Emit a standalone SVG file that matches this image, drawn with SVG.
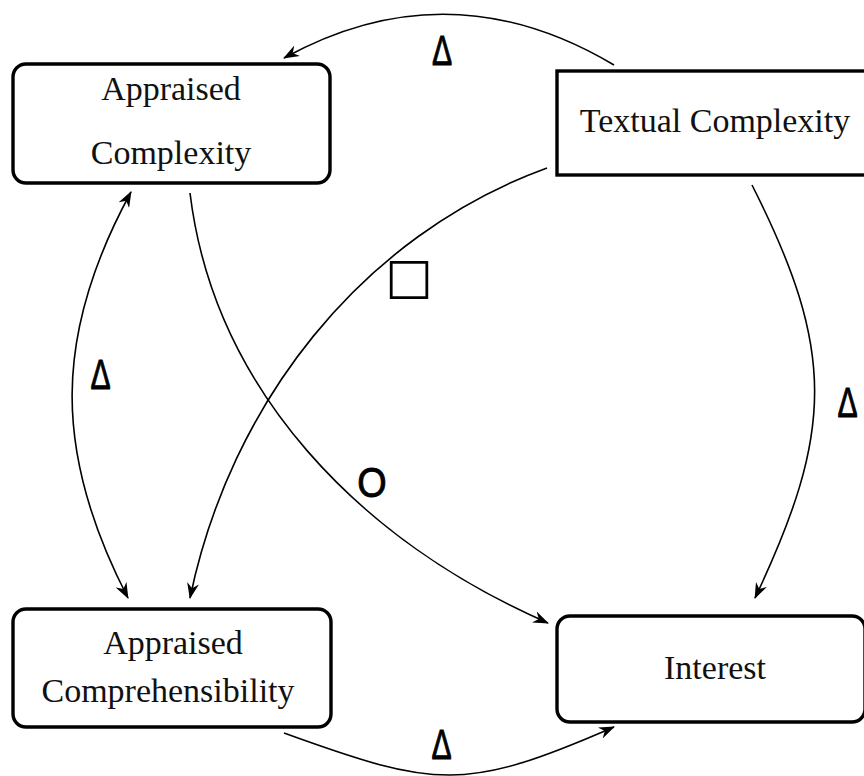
<svg xmlns="http://www.w3.org/2000/svg" width="864" height="776" viewBox="0 0 864 776">
<style>
.box{fill:#fff;stroke:#000;stroke-width:3.4}
.lbl{font-family:"Liberation Serif","Times New Roman",serif;font-size:34px;fill:#111;text-anchor:middle}
.sym{font-family:"Liberation Sans",Arial,sans-serif;font-size:42px;fill:#000;stroke:#000;stroke-width:0.9;text-anchor:middle}
.edge{fill:none;stroke:#000;stroke-width:1.6}
</style>
<defs>
<marker id="ah" viewBox="0 0 16 12" refX="15" refY="6" markerWidth="16" markerHeight="12" orient="auto-start-reverse" markerUnits="userSpaceOnUse">
<path d="M0,0 L16,6 L0,12 L5,6 z" fill="#000"/>
</marker>
</defs>
<rect width="864" height="776" fill="#fff"/>
<g id="connectors">
<path class="edge" d="M614,65 Q449,-33 284,58" marker-end="url(#ah)"/>
<path class="edge" d="M547,168 C360,236 230,405 190,598" marker-end="url(#ah)"/>
<path class="edge" d="M190,193 C214,390 360,541 548,623" marker-end="url(#ah)"/>
<path class="edge" d="M752,185 C836,351 834,431 755,598" marker-end="url(#ah)"/>
<path class="edge" d="M131,192 C53,335 53,453 128,598" marker-start="url(#ah)" marker-end="url(#ah)"/>
<path class="edge" d="M284,733 C436,788 465,792 614,727" marker-end="url(#ah)"/>
<text class="sym" transform="translate(442,65) scale(0.72,1)">Δ</text>
<text class="sym" transform="translate(100.5,389) scale(0.72,1)">Δ</text>
<text class="sym" transform="translate(847.5,417) scale(0.72,1)">Δ</text>
<text class="sym" transform="translate(441.5,759) scale(0.72,1)">Δ</text>
<text class="sym" transform="translate(372,497) scale(0.9,1)">O</text>
<text x="409" y="293" style="font-family:'DejaVu Sans',sans-serif;font-size:50px;text-anchor:middle">□</text>
</g>
<g id="appraised-complexity">
<rect class="box" x="13" y="64" width="317" height="119" rx="13"/>
<text class="lbl" x="171" y="100">Appraised</text>
<text class="lbl" x="171" y="164">Complexity</text>
</g>
<g id="textual-complexity">
<rect class="box" x="557" y="71" width="320" height="104"/>
<text class="lbl" x="715" y="132">Textual Complexity</text>
</g>
<g id="appraised-comprehensibility">
<rect class="box" x="13" y="609" width="318" height="118" rx="13"/>
<text class="lbl" x="173" y="654">Appraised</text>
<text class="lbl" x="168" y="702">Comprehensibility</text>
</g>
<g id="interest">
<rect class="box" x="557" y="616" width="308" height="106" rx="13"/>
<text class="lbl" x="715" y="679">Interest</text>
</g>
</svg>
